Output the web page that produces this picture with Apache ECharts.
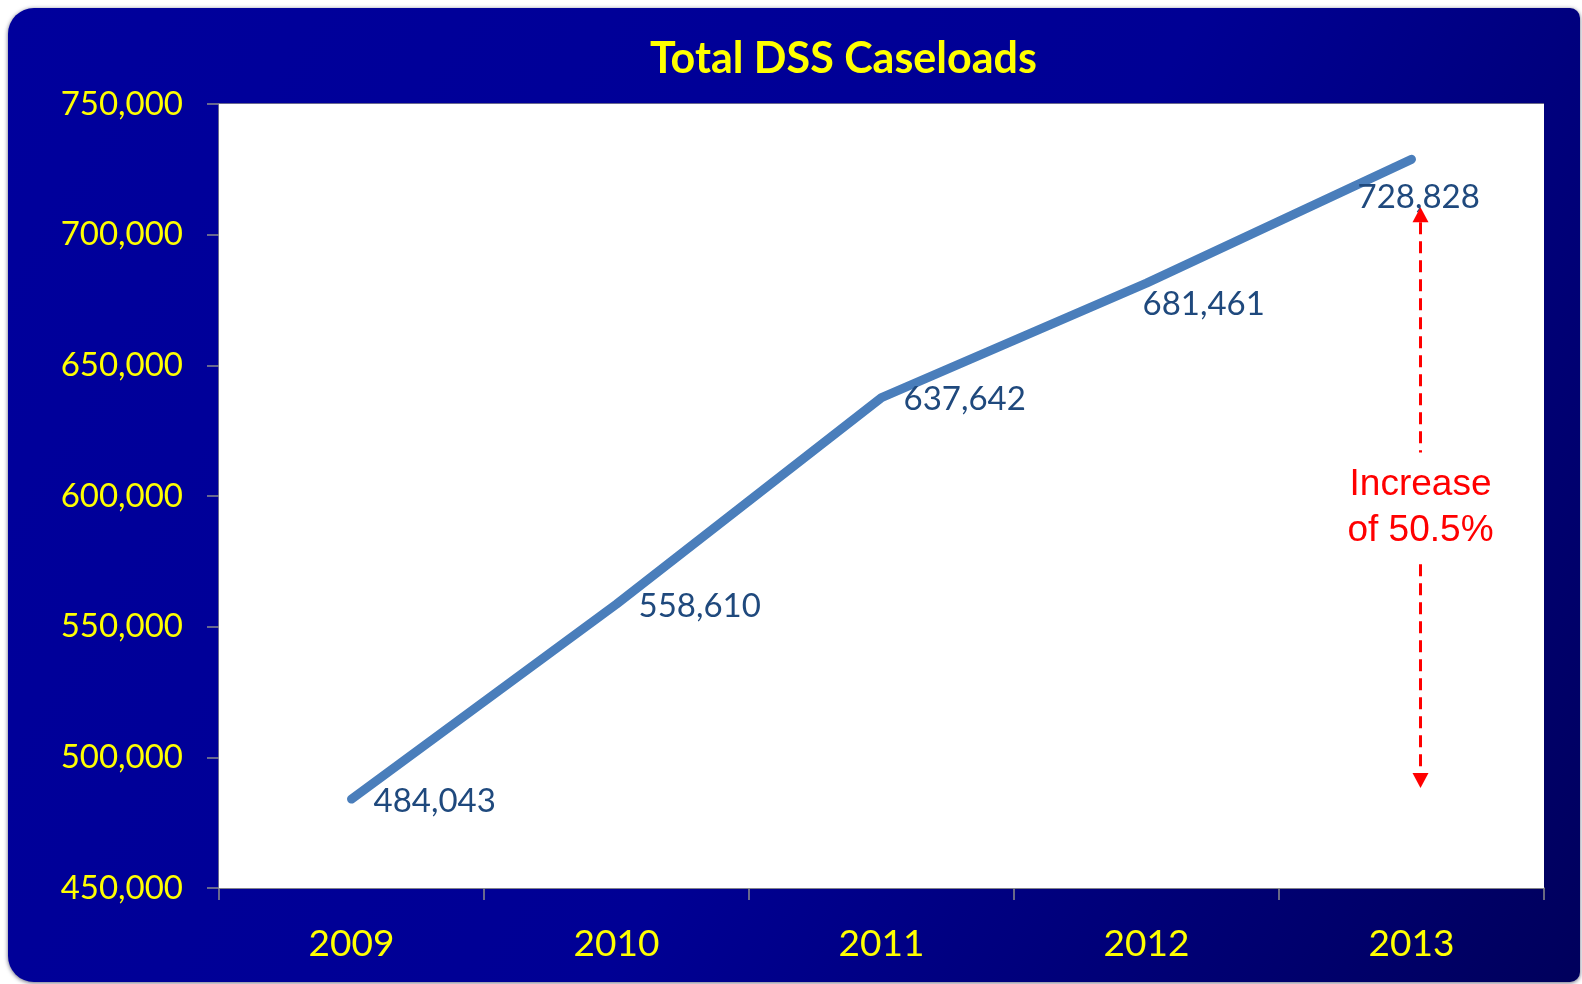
<!DOCTYPE html>
<html>
<head>
<meta charset="utf-8">
<script src="https://cdn.jsdelivr.net/npm/echarts@6/dist/echarts.min.js"></script>
<style>
html,body{margin:0;padding:0;background:#ffffff;}
#chart{width:1582px;height:984px;}
</style>
</head>
<body>
<div id="chart"></div>
<script>
// ---- data ----
const years = ['2009', '2010', '2011', '2012', '2013'];
const caseloads = [484043, 558610, 637642, 681461, 728828];
const yTicks = [450000, 500000, 550000, 600000, 650000, 700000, 750000];
const titleText = 'Total DSS Caseloads';
const noteLines = ['Increase', 'of 50.5%'];
const arrowTopValue = 710500;
const arrowBottomValue = 488300;

// label placement per point (style only)
const labelOffsets = [[0, 2], [0, 2], [0, 2], [-26, 21], [-76, 38]];

const chart = echarts.init(document.getElementById('chart'));
const FONT = 'Lato';
const fmt = v => v.toLocaleString('en-US');

const option = {
  animation: false,
  backgroundColor: '#ffffff',
  title: {
    text: titleText,
    left: 645,
    top: 29,
    textStyle: { color: '#FFFF00', fontFamily: FONT, fontWeight: 'bold', fontSize: 43, lineHeight: 50 }
  },
  grid: {
    left: 219, right: 38, top: 104, bottom: 96,
    show: true, backgroundColor: '#ffffff', borderWidth: 0, z: 1
  },
  xAxis: {
    type: 'category',
    data: years,
    boundaryGap: true,
    axisLine: { show: true, lineStyle: { color: '#8C8C8C', width: 1.5 } },
    axisTick: { show: true, inside: false, length: 12, lineStyle: { color: '#8C8C8C', width: 1.5 } },
    axisLabel: { color: '#FFFF00', fontFamily: FONT, fontSize: 37, lineHeight: 40, margin: 36 },
    splitLine: { show: false }
  },
  yAxis: {
    type: 'value',
    min: yTicks[0],
    max: yTicks[yTicks.length - 1],
    interval: yTicks[1] - yTicks[0],
    axisLine: { show: true, lineStyle: { color: '#8C8C8C', width: 1.5 } },
    axisTick: { show: true, inside: false, length: 12, lineStyle: { color: '#8C8C8C', width: 1.5 } },
    axisLabel: { color: '#FFFF00', fontFamily: FONT, fontSize: 33, margin: 36, formatter: v => fmt(v) },
    splitLine: { show: true, lineStyle: { color: '#8C8C8C', width: 1.5 } }
  },
  series: [{
    type: 'line',
    data: caseloads.map((v, i) => ({ value: v, label: { offset: labelOffsets[i] } })),
    symbol: 'circle',
    symbolSize: 2,
    showSymbol: true,
    itemStyle: { color: 'rgba(0,0,0,0)' },
    lineStyle: { color: '#4A7EBB', width: 9, cap: 'round', join: 'round' },
    label: {
      show: true,
      position: 'right',
      distance: 21,
      color: '#1F497D',
      fontFamily: FONT,
      fontSize: 33,
      formatter: p => fmt(p.value)
    },
    z: 3
  }]
};
chart.setOption(option);

// ---- background panel + annotation (decor) ----
const W = 1582, H = 984;
const bg = {
  type: 'rect',
  z: -10, zlevel: 0,
  silent: true,
  shape: { x: 8, y: 8, width: W - 10, height: H - 10, r: [26, 10, 10, 26] },
  style: {
    fill: new echarts.graphic.LinearGradient(0, 0, 1, 1, [
      { offset: 0, color: '#00009C' },
      { offset: 0.55, color: '#000094' },
      { offset: 1, color: '#00005C' }
    ]),
    shadowColor: 'rgba(0,0,40,0.6)', shadowBlur: 4, shadowOffsetY: 1
  }
};

const pTop = chart.convertToPixel({ seriesIndex: 0 }, [4, arrowTopValue]);
const pBot = chart.convertToPixel({ seriesIndex: 0 }, [4, arrowBottomValue]);
const ax = pTop[0] + 9;
const midY = (pTop[1] + pBot[1]) / 2 + 10;
const head = 15, hw = 8;

const annotation = [
  {
    type: 'line', z: 50,
    shape: { x1: ax, y1: pTop[1] + head, x2: ax, y2: pBot[1] - head },
    style: { stroke: '#FF0000', lineWidth: 3, lineDash: [12, 7] }
  },
  {
    type: 'polygon', z: 50,
    shape: { points: [[ax, pTop[1]], [ax - hw, pTop[1] + head], [ax + hw, pTop[1] + head]] },
    style: { fill: '#FF0000' }
  },
  {
    type: 'polygon', z: 50,
    shape: { points: [[ax, pBot[1]], [ax - hw, pBot[1] - head], [ax + hw, pBot[1] - head]] },
    style: { fill: '#FF0000' }
  },
  {
    type: 'text', z: 60,
    x: ax, y: midY,
    style: {
      text: noteLines.join('\n'),
      fill: '#FF0000',
      font: '37px "Liberation Sans", Arial, sans-serif',
      lineHeight: 46,
      align: 'center',
      verticalAlign: 'middle',
      backgroundColor: '#ffffff',
      padding: [9, 22]
    }
  }
];

chart.setOption({ graphic: [bg].concat(annotation) });
</script>
</body>
</html>
